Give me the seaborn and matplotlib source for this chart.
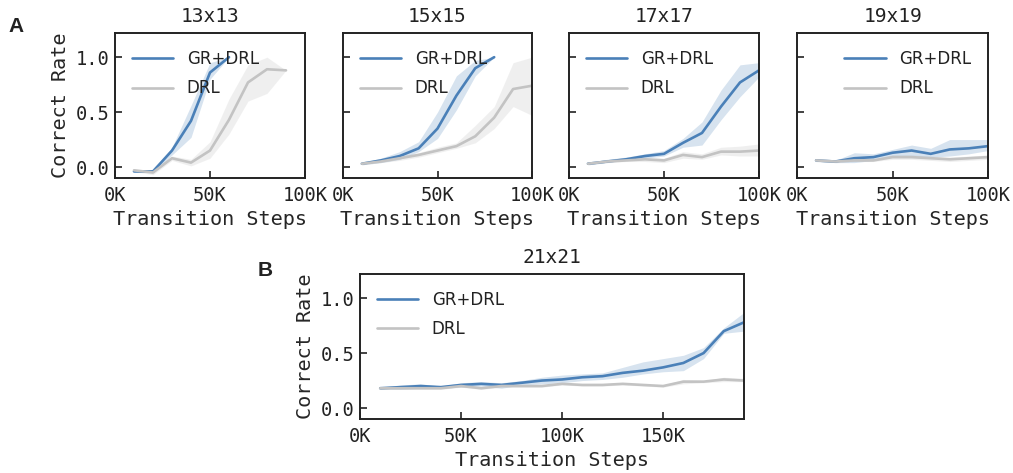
import numpy as np
import pandas as pd
import matplotlib
matplotlib.use("Agg")
import matplotlib.pyplot as plt
import seaborn as sns
from matplotlib.ticker import FuncFormatter

# ---------------- data ----------------
titles = ["13x13", "15x15", "17x17", "19x19", "21x21"]
methods = ["GR+DRL", "DRL"]

# 13x13
s13_gr = [10, 20, 30, 40, 50, 60]
m13_gr = [-0.04, -0.04, 0.15, 0.42, 0.86, 1.0]
lo13_gr = [-0.05, -0.05, 0.11, 0.27, 0.80, 1.0]
hi13_gr = [-0.03, -0.03, 0.18, 0.56, 0.95, 1.0]
s13_d = [10, 20, 30, 40, 50, 60, 70, 80, 90]
m13_d = [-0.03, -0.05, 0.08, 0.04, 0.15, 0.43, 0.77, 0.89, 0.88]
lo13_d = [-0.04, -0.07, 0.06, 0.01, 0.08, 0.30, 0.60, 0.67, 0.88]
hi13_d = [-0.02, -0.03, 0.10, 0.07, 0.23, 0.62, 0.93, 1.00, 0.88]

# 15x15
s15_gr = [10, 20, 30, 40, 50, 60, 70, 80]
m15_gr = [0.03, 0.06, 0.10, 0.17, 0.35, 0.65, 0.90, 1.0]
lo15_gr = [0.02, 0.04, 0.07, 0.14, 0.26, 0.52, 0.83, 1.0]
hi15_gr = [0.04, 0.08, 0.14, 0.23, 0.50, 0.83, 0.97, 1.0]
s15_d = [10, 20, 30, 40, 50, 60, 70, 80, 90, 100]
m15_d = [0.03, 0.05, 0.08, 0.11, 0.15, 0.19, 0.28, 0.45, 0.71, 0.74]
lo15_d = [0.02, 0.04, 0.06, 0.09, 0.13, 0.17, 0.22, 0.35, 0.55, 0.47]
hi15_d = [0.04, 0.06, 0.10, 0.13, 0.18, 0.22, 0.38, 0.55, 0.95, 1.00]

# 17x17
s17 = [10, 20, 30, 40, 50, 60, 70, 80, 90, 100]
m17_gr = [0.03, 0.05, 0.07, 0.10, 0.12, 0.22, 0.31, 0.55, 0.77, 0.88]
lo17_gr = [0.02, 0.04, 0.06, 0.08, 0.10, 0.18, 0.20, 0.43, 0.64, 0.82]
hi17_gr = [0.04, 0.07, 0.09, 0.12, 0.15, 0.26, 0.41, 0.70, 0.93, 0.95]
m17_d = [0.03, 0.05, 0.06, 0.07, 0.06, 0.11, 0.09, 0.14, 0.14, 0.15]
lo17_d = [0.02, 0.04, 0.05, 0.05, 0.04, 0.08, 0.07, 0.11, 0.10, 0.10]
hi17_d = [0.04, 0.06, 0.07, 0.09, 0.08, 0.14, 0.12, 0.18, 0.19, 0.21]

# 19x19
s19 = [10, 20, 30, 40, 50, 60, 70, 80, 90, 100]
m19_gr = [0.06, 0.05, 0.08, 0.09, 0.13, 0.15, 0.12, 0.16, 0.17, 0.19]
lo19_gr = [0.05, 0.04, 0.04, 0.06, 0.09, 0.10, 0.09, 0.10, 0.12, 0.15]
hi19_gr = [0.07, 0.06, 0.13, 0.12, 0.16, 0.20, 0.17, 0.25, 0.25, 0.25]
m19_d = [0.06, 0.05, 0.06, 0.06, 0.09, 0.09, 0.08, 0.07, 0.08, 0.09]
lo19_d = [0.05, 0.04, 0.05, 0.05, 0.07, 0.07, 0.06, 0.05, 0.06, 0.07]
hi19_d = [0.07, 0.06, 0.07, 0.07, 0.11, 0.11, 0.10, 0.09, 0.10, 0.11]

# 21x21
s21 = [10, 20, 30, 40, 50, 60, 70, 80, 90, 100, 110, 120, 130, 140, 150, 160, 170, 180, 190]
m21_gr = [0.18, 0.19, 0.20, 0.19, 0.21, 0.22, 0.21, 0.23, 0.25, 0.26, 0.28, 0.29, 0.32, 0.34, 0.37, 0.41, 0.50, 0.70, 0.78]
lo21_gr = [0.17, 0.17, 0.18, 0.18, 0.19, 0.20, 0.18, 0.21, 0.22, 0.23, 0.25, 0.26, 0.28, 0.31, 0.33, 0.34, 0.45, 0.68, 0.70]
hi21_gr = [0.19, 0.21, 0.22, 0.20, 0.23, 0.24, 0.23, 0.25, 0.28, 0.30, 0.31, 0.32, 0.37, 0.42, 0.45, 0.48, 0.55, 0.73, 0.87]
m21_d = [0.18, 0.18, 0.18, 0.18, 0.20, 0.18, 0.20, 0.20, 0.20, 0.22, 0.21, 0.21, 0.22, 0.21, 0.20, 0.24, 0.24, 0.26, 0.25]
lo21_d = [0.17, 0.17, 0.17, 0.17, 0.19, 0.17, 0.19, 0.19, 0.19, 0.21, 0.20, 0.20, 0.21, 0.20, 0.19, 0.22, 0.23, 0.24, 0.24]
hi21_d = [0.19, 0.19, 0.19, 0.19, 0.21, 0.19, 0.21, 0.21, 0.21, 0.23, 0.22, 0.22, 0.23, 0.22, 0.21, 0.26, 0.25, 0.28, 0.27]

panels = [
    (s13_gr, m13_gr, lo13_gr, hi13_gr, s13_d, m13_d, lo13_d, hi13_d),
    (s15_gr, m15_gr, lo15_gr, hi15_gr, s15_d, m15_d, lo15_d, hi15_d),
    (s17, m17_gr, lo17_gr, hi17_gr, s17, m17_d, lo17_d, hi17_d),
    (s19, m19_gr, lo19_gr, hi19_gr, s19, m19_d, lo19_d, hi19_d),
    (s21, m21_gr, lo21_gr, hi21_gr, s21, m21_d, lo21_d, hi21_d),
]

colors = {"GR+DRL": "#4a80b8", "DRL": "#c3c3c3"}

# ---------------- style ----------------
sns.set_theme(style="ticks")
plt.rcParams.update({
    "font.family": ["DejaVu Sans Mono"],
    "xtick.direction": "in",
    "ytick.direction": "in",
    "xtick.major.size": 5,
    "ytick.major.size": 5,
    "xtick.major.width": 1.2,
    "ytick.major.width": 1.2,
    "axes.linewidth": 1.4,
    "axes.edgecolor": "#222222",
    "xtick.color": "#222222",
    "ytick.color": "#222222",
    "text.color": "#222222",
})

W, H = 1013, 473
fig = plt.figure(figsize=(W / 100, H / 100), dpi=100)

def box(l, r, t, b):
    return [l / W, (H - b) / H, (r - l) / W, (b - t) / H]

rects = [box(115, 305, 33, 178), box(343, 532, 33, 178), box(569, 759, 33, 178),
         box(797, 988, 33, 178), box(360, 744, 274, 419)]

kfmt = FuncFormatter(lambda v, p: f"{int(round(v / 1000))}K")

for i, (rect, title, pdat) in enumerate(zip(rects, titles, panels)):
    ax = fig.add_axes(rect)
    sg, mg, lg, hg, sd, md, ld, hd = pdat
    df = pd.concat([
        pd.DataFrame({"step": np.array(sg) * 1000, "rate": mg, "method": "GR+DRL"}),
        pd.DataFrame({"step": np.array(sd) * 1000, "rate": md, "method": "DRL"}),
    ], ignore_index=True)
    sns.lineplot(data=df, x="step", y="rate", hue="method", hue_order=methods,
                 palette=colors, linewidth=1.9, ax=ax, errorbar=None)
    ax.fill_between(np.array(sd) * 1000, ld, hd, color=colors["DRL"], alpha=0.25, lw=0)
    ax.fill_between(np.array(sg) * 1000, lg, hg, color=colors["GR+DRL"], alpha=0.22, lw=0)

    xmax = 190000 if i == 4 else 100000
    ax.set_xlim(0, xmax)
    ax.set_ylim(-0.1, 1.22)
    ax.set_xticks([0, 50000, 100000, 150000] if i == 4 else [0, 50000, 100000])
    ax.xaxis.set_major_formatter(kfmt)
    ax.set_yticks([0.0, 0.5, 1.0])
    ax.tick_params(labelsize=13.5, pad=4)
    ax.tick_params(axis="x", pad=6)
    ax.set_title(title, fontsize=14, pad=8)
    ax.set_xlabel("Transition Steps", fontsize=14.5, labelpad=3)
    if i in (0, 4):
        ax.set_ylabel("Correct Rate", fontsize=14.5, labelpad=4)
    else:
        ax.set_ylabel("")
        ax.set_yticklabels([])
    for s in ax.spines.values():
        s.set_visible(True)
    loc = "upper right" if i == 3 else "upper left"
    ax.legend(loc=loc, frameon=False, handlelength=2.5, labelspacing=0.7,
              prop={"family": "DejaVu Sans", "size": 12}, borderaxespad=0.6,
              title=None)

fig.text(8 / W, 1 - 32 / H, "A", fontsize=15, fontweight="bold",
         family="Liberation Sans", va="baseline")
fig.text(258 / W, 1 - 276 / H, "B", fontsize=15, fontweight="bold",
         family="Liberation Sans", va="baseline")

fig.savefig("out.png", dpi=100)
